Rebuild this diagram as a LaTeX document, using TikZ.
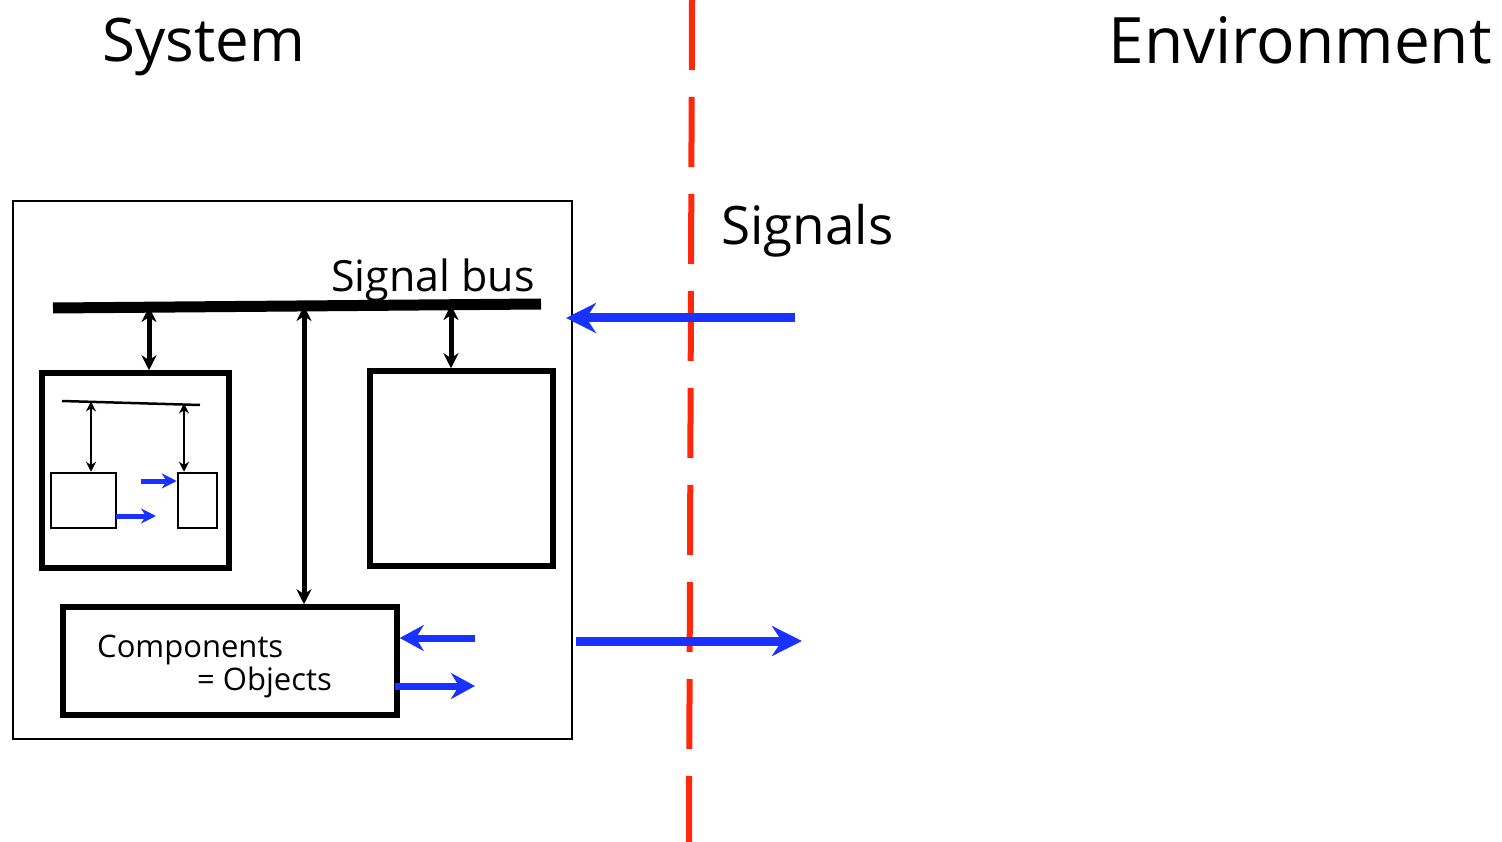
\documentclass[tikz,border=0pt]{standalone}
\usepackage{fontspec}
\setmainfont{Open Sans}
\usetikzlibrary{arrows.meta}
\definecolor{sigblue}{RGB}{25,50,255}
\definecolor{sigred}{RGB}{255,40,10}
\begin{document}
\begin{tikzpicture}[x=1pt,y=-1pt,
  boxthick/.style={draw=black,line width=5.5pt},
  boxthin/.style={draw=black,line width=2pt},
  dbl/.style={{Stealth[length=15pt,width=15pt]}-{Stealth[length=15pt,width=15pt]},line width=5pt},
  dblthin/.style={{Stealth[length=10pt,width=10pt]}-{Stealth[length=10pt,width=10pt]},line width=2.5pt},
  bluearrow/.style={-{Stealth[length=30pt,width=30pt]},draw=sigblue,line width=9pt},
  bluesmall/.style={-{Stealth[length=15pt,width=15pt]},draw=sigblue,line width=5pt},
  lbl/.style={inner sep=0pt,anchor=base}]
\useasboundingbox (0,0) rectangle (1502,842);
% dashed boundary
\coordinate (bt) at (692,0);
\coordinate (bb) at (689,842);
\draw[sigred,line width=6pt,dash pattern=on 70pt off 27pt] (bt) -- (bb);
% titles
\node[lbl,font=\fontsize{60}{60}\selectfont] (sys) at (204,62) {System};
\node[lbl,font=\fontsize{64}{64}\selectfont,anchor=base east] (env) at (1492,64) {Environment};
\node[lbl,font=\fontsize{53}{53}\selectfont,anchor=base west] (sig) at (721,245) {Signals};
% outer box
\node[boxthin,minimum width=559pt,minimum height=538pt,inner sep=0pt] (outer) at (292.5,470) {};
% signal bus
\coordinate (busL) at (53,308);
\coordinate (busR) at (541,304);
\draw[line width=11pt] (busL) -- (busR);
\node[lbl,font=\fontsize{43}{43}\selectfont,anchor=base east] (buslbl) at (535,292) {Signal bus};
% boxes
\node[boxthick,minimum width=187pt,minimum height=195pt,inner sep=0pt] (lbox) at (135.5,470.5) {};
\node[boxthick,minimum width=183pt,minimum height=195pt,inner sep=0pt] (rbox) at (461.5,468.5) {};
\node[boxthick,minimum width=334pt,minimum height=108pt,inner sep=0pt] (cbox) at (230,661) {};
\node[lbl,font=\fontsize{31}{31}\selectfont,anchor=base west] (ctext1) at (97,657) {Components};
\node[lbl,font=\fontsize{31}{31}\selectfont,anchor=base east] (ctext2) at (332,690) {= Objects};
% bus connectors
\coordinate (b1) at (149,307);
\coordinate (b2) at (304,306);
\coordinate (b3) at (451,305);
\draw[dbl] (b1) -- (lbox.north -| b1);
\draw[dbl] (b2) -- (cbox.north -| b2);
\draw[dbl] (b3) -- (rbox.north -| b3);
% inner structure
\coordinate (ibL) at (62,401);
\coordinate (ibR) at (200,405);
\draw[line width=2.5pt] (ibL) -- (ibR);
\node[draw=black,line width=2.5pt,minimum width=65pt,minimum height=55pt,inner sep=0pt] (s1) at (83.5,500.5) {};
\node[draw=black,line width=2.5pt,minimum width=39pt,minimum height=55pt,inner sep=0pt] (s2) at (197.5,500.5) {};
\coordinate (i1) at (91,401.5);
\coordinate (i2) at (184,403.5);
\draw[dblthin] (i1) -- (s1.north -| i1);
\draw[dblthin] (i2) -- (s2.north -| i2);
\coordinate (a1s) at (141,481);
\draw[bluesmall] (a1s) -- (s2.west |- a1s);
\coordinate (a2s) at (116,516);
\coordinate (a2e) at (156,516);
\draw[bluesmall] (a2s) -- (a2e);
% components arrows
\coordinate (c1s) at (475,638);
\draw[bluesmall,line width=7pt,-{Stealth[length=24pt,width=26pt]}] (c1s) -- (cbox.east |- c1s);
\coordinate (c2s) at (395,686);
\coordinate (c2e) at (475,686);
\draw[bluesmall,line width=7pt,-{Stealth[length=24pt,width=26pt]}] (c2s) -- (c2e);
% big signal arrows
\coordinate (inS) at (795,318);
\coordinate (inE) at (566,318);
\draw[bluearrow] (inS) -- (inE);
\coordinate (outS) at (576,641);
\coordinate (outE) at (802,641);
\draw[bluearrow] (outS) -- (outE);
\end{tikzpicture}
\end{document}
